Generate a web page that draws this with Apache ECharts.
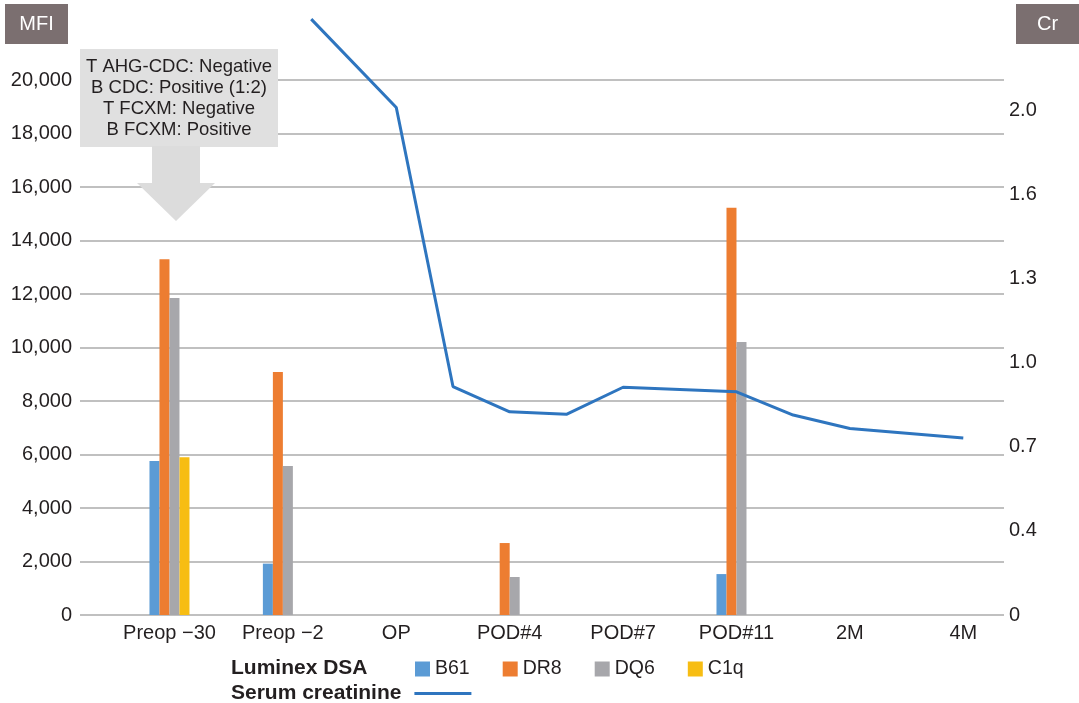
<!DOCTYPE html>
<html>
<head>
<meta charset="utf-8">
<script src="https://cdn.jsdelivr.net/npm/echarts@6/dist/echarts.min.js"></script>
<style>
  html, body { margin: 0; padding: 0; background: #fff; }
  #chart { width: 1079px; height: 703px; }
</style>
</head>
<body>
<div id="chart"></div>
<script>
// 数据
var categories = ['Preop \u221230', 'Preop \u22122', 'OP', 'POD#4', 'POD#7', 'POD#11', '2M', '4M'];
var b61 = [5760, 1920, null, null, null, 1530, null, null];
var dr8 = [13300, 9080, null, 2690, null, 15220, null, null];
var dq6 = [11850, 5570, null, 1420, null, 10210, null, null];
var c1q = [5900, null, null, null, null, null, null, null];
// creatinine: position on the time axis (category units) and value
var crPos = [1.25, 2, 2.5, 3, 3.5, 4, 5, 5.5, 6, 7];
var crValues = [2.36, 2.01, 0.905, 0.805, 0.795, 0.902, 0.884, 0.792, 0.739, 0.701];
var crTickLabels = ['0', '0.4', '0.7', '1.0', '1.3', '1.6', '2.0'];
var annotationLines = ['T AHG-CDC: Negative', 'B CDC: Positive (1:2)', 'T FCXM: Negative', 'B FCXM: Positive'];

var font = 'Liberation Sans, Arial, Helvetica, sans-serif';
var textColor = '#231f20';

function toPairs(arr) {
  return arr.map(function (v, i) { return [i, v]; });
}

function barSeries(name, data, color) {
  return {
    name: name,
    type: 'bar',
    xAxisIndex: 0,
    yAxisIndex: 0,
    barWidth: 10,
    barGap: '0%',
    itemStyle: { color: color },
    data: toPairs(data)
  };
}

var chart = echarts.init(document.getElementById('chart'));
var option = {
  backgroundColor: '#ffffff',
  textStyle: { fontFamily: font },
  animation: false,
  grid: {
    left: 80,
    right: 75,
    top: 80,
    bottom: 88,
    outerBoundsMode: 'none'
  },
  legend: [
    {
      left: 415,
      top: 659,
      padding: 0,
      itemWidth: 15,
      itemHeight: 15,
      itemGap: 33,
      icon: 'rect',
      selectedMode: false,
      textStyle: { fontSize: 19.5, color: textColor, fontFamily: font },
      data: ['B61', 'DR8', 'DQ6', 'C1q']
    },
    {
      left: 231,
      top: 683,
      padding: 0,
      align: 'right',
      itemWidth: 57,
      itemHeight: 3,
      selectedMode: false,
      textStyle: { fontSize: 21, fontWeight: 'bold', color: textColor, fontFamily: font, padding: [0, 8, 0, 0] },
      data: [{ name: 'Serum creatinine', icon: 'rect' }]
    }
  ],
  xAxis: [
    {
      type: 'value',
      min: -0.789,
      max: 7.359,
      axisLine: { show: false },
      axisTick: { show: false },
      splitLine: { show: false },
      axisLabel: {
        customValues: [0, 1, 2, 3, 4, 5, 6, 7],
        margin: 8,
        fontSize: 20,
        color: textColor,
        formatter: function (v) { return categories[Math.round(v)]; }
      }
    }
  ],
  yAxis: [
    {
      type: 'value',
      min: 0,
      max: 20000,
      interval: 2000,
      axisLine: { show: false },
      axisTick: { show: false },
      splitLine: { show: true, lineStyle: { color: '#ababab', width: 1.5 } },
      axisLabel: {
        margin: 8,
        fontSize: 20,
        color: textColor,
        formatter: function (v) { return v.toLocaleString('en-US'); }
      }
    },
    {
      type: 'value',
      min: 0,
      max: 2.119,
      axisLine: { show: false },
      axisTick: { show: false },
      splitLine: { show: false },
      axisLabel: {
        customValues: [0, 1 / 3, 2 / 3, 1, 4 / 3, 5 / 3, 2],
        margin: 5,
        fontSize: 20,
        color: textColor,
        formatter: function (v) { return crTickLabels[Math.round(v * 3)]; }
      }
    }
  ],
  series: [
    barSeries('B61', b61, '#5b9bd5'),
    barSeries('DR8', dr8, '#ed7d31'),
    barSeries('DQ6', dq6, '#a7a7ab'),
    barSeries('C1q', c1q, '#f7bd13'),
    {
      name: 'Serum creatinine',
      type: 'line',
      xAxisIndex: 0,
      yAxisIndex: 1,
      symbol: 'none',
      clip: false,
      z: 5,
      lineStyle: { color: '#2e75bf', width: 3 },
      itemStyle: { color: '#2e75bf' },
      data: crPos.map(function (p, i) { return [p, crValues[i]]; })
    }
  ],
  graphic: [
    // axis title boxes
    { type: 'rect', z: 100, shape: { x: 5, y: 4, width: 63, height: 40 }, style: { fill: '#7b6f70' } },
    { type: 'text', z: 101, x: 36.5, y: 24, style: { text: 'MFI', fill: '#fff', font: '20px ' + font, textAlign: 'center', textVerticalAlign: 'middle' } },
    { type: 'rect', z: 100, shape: { x: 1016, y: 4, width: 63, height: 40 }, style: { fill: '#7b6f70' } },
    { type: 'text', z: 101, x: 1047.5, y: 24, style: { text: 'Cr', fill: '#fff', font: '20px ' + font, textAlign: 'center', textVerticalAlign: 'middle' } },
    // crossmatch note + arrow
    { type: 'rect', z: 100, shape: { x: 80, y: 49, width: 198, height: 98 }, style: { fill: '#e0e0e0' } },
    {
      type: 'polygon', z: 100,
      shape: { points: [[152, 146], [200, 146], [200, 183], [215, 183], [176, 221], [137, 183], [152, 183]] },
      style: { fill: '#dcdcdc' }
    },
    {
      type: 'text', z: 101, x: 179, y: 98,
      style: {
        text: annotationLines.join('\n'),
        fill: textColor,
        font: '18.5px ' + font,
        lineHeight: 21,
        textAlign: 'center',
        textVerticalAlign: 'middle'
      }
    },
    // legend group titles
    { type: 'text', z: 101, x: 231, y: 668, style: { text: 'Luminex DSA', fill: textColor, font: 'bold 21px ' + font, textAlign: 'left', textVerticalAlign: 'middle' } }
  ]
};
chart.setOption(option);
</script>
</body>
</html>
